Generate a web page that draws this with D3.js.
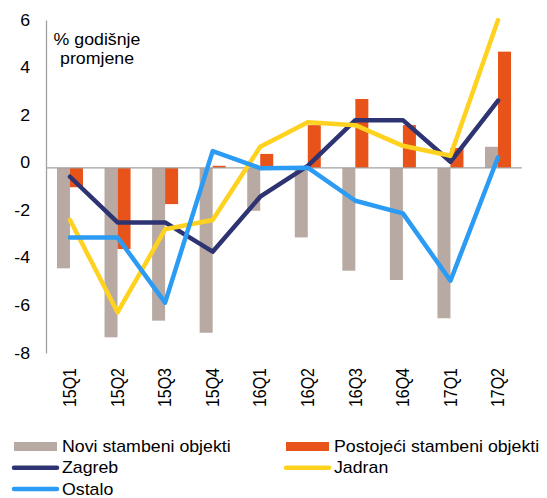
<!DOCTYPE html>
<html><head><meta charset="utf-8">
<script src="https://cdn.jsdelivr.net/npm/d3@7/dist/d3.min.js"></script>
<style>
html,body{margin:0;padding:0;background:#fff;}
svg{display:block;font-family:"Liberation Sans",Arial,sans-serif;}
</style></head>
<body>
<svg id="chart" width="547" height="498"></svg>
<script>
const categories = ["15Q1","15Q2","15Q3","15Q4","16Q1","16Q2","16Q3","16Q4","17Q1","17Q2"];
const noviValues = [-4.44,-7.34,-6.64,-7.15,-2.02,-3.14,-4.54,-4.93,-6.54,0.67];
const postojeciValues = [-1.03,-3.63,-1.74,-0.13,0.37,1.58,2.68,1.58,0.62,4.67];
const zagrebValues = [-0.59,-2.51,-2.51,-3.74,-1.43,-0.13,1.79,1.79,0.04,2.61];
const jadranValues = [-2.41,-6.29,-2.80,-2.41,0.67,1.70,1.58,0.71,0.29,6.0];
const ostaloValues = [-3.14,-3.14,-5.88,0.49,-0.23,-0.21,-1.60,-2.13,-4.96,0.23];
const yTicks = [-8,-6,-4,-2,0,2,4,6];
const axisCrossing = -0.22;
const titleLines = ["% godišnje","promjene"];
const seriesNames = ["Novi stambeni objekti","Postojeći stambeni objekti","Zagreb","Jadran","Ostalo"];

const colors = {novi:"#B8AAA2", post:"#E8531A", zagreb:"#2E3472", jadran:"#FFD21F", ostalo:"#2B9BF4"};
const SX = 1.11; // horizontal text stretch of the reference

const svg = d3.select("#chart");
const x = d3.scaleBand().domain(categories).range([46.2, 521.8]).padding(0);
const y = d3.scaleLinear().domain([-8, 6]).range([353, 20]);
const pairW = x.bandwidth() * 0.547;
const xs = d3.scaleBand().domain(["novi","post"]).range([0, pairW]);
const base = y(axisCrossing);

const cx = c => x(c) + x.bandwidth()/2;

// bars
const bars = svg.append("g");
function drawBars(vals, key){
  bars.selectAll(null).data(categories.map((c,i)=>({c, v: vals[i]})))
    .enter().append("rect")
    .attr("x", d => cx(d.c) - pairW/2 + xs(key))
    .attr("width", xs.bandwidth())
    .attr("y", d => Math.min(y(d.v), base))
    .attr("height", d => Math.abs(y(d.v) - base))
    .attr("fill", colors[key]);
}
drawBars(noviValues, "novi");
drawBars(postojeciValues, "post");

// axes
const yAxis = d3.axisLeft(y).tickValues(yTicks).tickSize(0).tickPadding(16/SX)
  .tickFormat(d => String(d));
const gy = svg.append("g").attr("transform","translate(46,0)").call(yAxis);
gy.select(".domain").attr("stroke","#A0A0A0").attr("stroke-width",1.3);
gy.selectAll("text").attr("font-size",16).attr("fill","#000")
  .attr("font-family","Liberation Sans, Arial, sans-serif")
  .attr("transform",`scale(${SX},1)`);

svg.append("line").attr("x1",46).attr("x2",521.8).attr("y1",base).attr("y2",base)
  .attr("stroke","#A0A0A0").attr("stroke-width",1.3);

// x labels
svg.append("g").selectAll("text").data(categories).enter().append("text")
  .attr("transform", d => `translate(${cx(d)},368) rotate(-90) scale(1,${SX})`)
  .attr("text-anchor","end").attr("dy","0.35em")
  .attr("font-size",16).attr("fill","#000").text(d => d);

// lines
const line = d3.line().x((d,i)=>cx(categories[i])).y(d=>y(d));
[[zagrebValues,"zagreb"],[jadranValues,"jadran"],[ostaloValues,"ostalo"]].forEach(([vals,key])=>{
  svg.append("path").datum(vals).attr("d", line)
    .attr("fill","none").attr("stroke",colors[key]).attr("stroke-width",4.5)
    .attr("stroke-linejoin","round").attr("stroke-linecap","round");
});

// title
svg.append("g").selectAll("text").data(titleLines).enter().append("text")
  .attr("transform",(d,i)=>`translate(97,${44.5 + i*19.5}) scale(${SX},1)`)
  .attr("text-anchor","middle")
  .attr("font-size",16).attr("fill","#000").text(d=>d);

// legend
const legend = [
  {name: seriesNames[0], key:"novi", type:"rect", x:14, y:446.5},
  {name: seriesNames[1], key:"post", type:"rect", x:286, y:446.5},
  {name: seriesNames[2], key:"zagreb", type:"line", x:14, y:467.8},
  {name: seriesNames[3], key:"jadran", type:"line", x:286, y:467.8},
  {name: seriesNames[4], key:"ostalo", type:"line", x:14, y:489}
];
const lg = svg.append("g");
legend.forEach(l=>{
  if(l.type==="rect"){
    lg.append("rect").attr("x",l.x).attr("y",l.y-4.5).attr("width",43).attr("height",9).attr("fill",colors[l.key]);
  } else {
    lg.append("line").attr("x1",l.x).attr("x2",l.x+43).attr("y1",l.y).attr("y2",l.y)
      .attr("stroke",colors[l.key]).attr("stroke-width",4.5).attr("stroke-linecap","round");
  }
  lg.append("text").attr("transform",`translate(${l.x+48},${l.y+5.5}) scale(${SX},1)`)
    .attr("font-size",16).attr("fill","#000").text(l.name);
});
</script>
</body></html>
